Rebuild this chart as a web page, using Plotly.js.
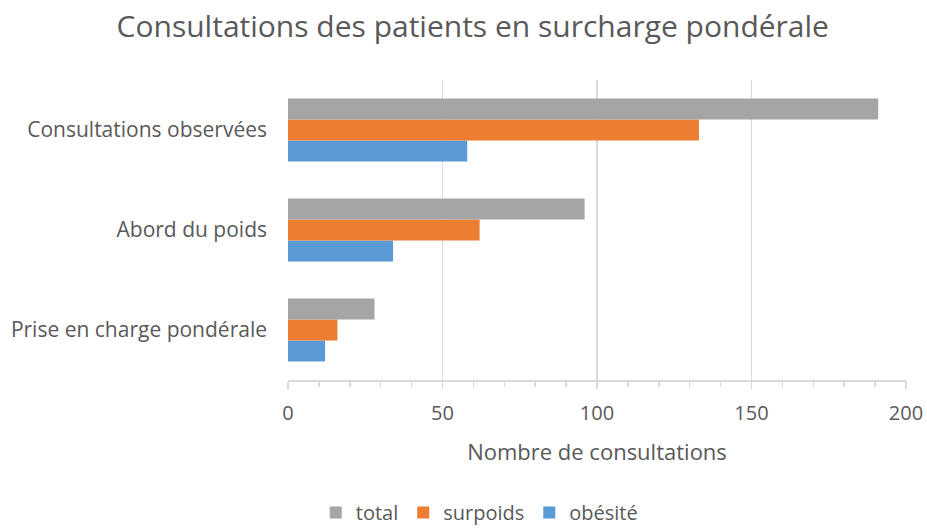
<!DOCTYPE html>
<html>
<head>
<meta charset="utf-8">
<script src="https://cdn.plot.ly/plotly-3.0.1.min.js"></script>
<style>body{margin:0;padding:0;background:#fff}#chart{width:927px;height:532px}</style>
</head>
<body>
<div id="chart"></div>
<script>
var categories = ['Prise en charge pondérale', 'Abord du poids', 'Consultations observées'];
var totalValues = [28, 96, 191];
var surpoidsValues = [16, 62, 133];
var obesiteValues = [12, 34, 58];
var xTickValues = [0, 50, 100, 150, 200];

var font = 'Open Sans, Liberation Sans, sans-serif';
var traces = [
  {type: 'bar', orientation: 'h', name: 'obésité', y: categories, x: obesiteValues, marker: {color: '#5b9bd5'}},
  {type: 'bar', orientation: 'h', name: 'surpoids', y: categories, x: surpoidsValues, marker: {color: '#ed7d31'}},
  {type: 'bar', orientation: 'h', name: 'total', y: categories, x: totalValues, marker: {color: '#a5a5a5'}}
];
var layout = {
  width: 927, height: 532,
  margin: {l: 288, r: 21, t: 80, b: 152},
  paper_bgcolor: '#fff', plot_bgcolor: '#fff',
  font: {family: font, color: '#595959', size: 20},
  title: {text: 'Consultations des patients en surcharge pondérale', x: 0.51, xanchor: 'center', y: 0.95, yanchor: 'middle', font: {size: 30, color: '#595959', family: font}},
  barmode: 'group', bargap: 0.37, bargroupgap: 0,
  hovermode: false,
  xaxis: {
    range: [0, 200], tickvals: xTickValues, showgrid: true, gridcolor: '#d9d9d9', gridwidth: 1.5,
    zeroline: false, showline: true, linecolor: '#d9d9d9', linewidth: 1.5,
    ticks: 'outside', ticklen: 7, tickcolor: '#d9d9d9', tickwidth: 1.5,
    minor: {dtick: 10, ticks: 'outside', ticklen: 5, tickcolor: '#d9d9d9', showgrid: false},
    tickfont: {size: 20, color: '#595959'}, ticklabelstandoff: 7, automargin: false,
    title: {text: 'Nombre de consultations', font: {size: 22, color: '#595959'}, standoff: 20}
  },
  yaxis: {
    showgrid: false, zeroline: false, showline: false, ticks: '', ticklabelstandoff: 20,
    tickfont: {size: 21, color: '#595959'}, automargin: false
  },
  showlegend: true,
  legend: {orientation: 'h', traceorder: 'reversed', xref: 'container', yref: 'container', x: 0.517, xanchor: 'center', y: 0, yanchor: 'bottom', font: {size: 20, color: '#595959'}, itemwidth: 30}
};
Plotly.newPlot('chart', traces, layout, {staticPlot: true, displayModeBar: false});
</script>
</body>
</html>
